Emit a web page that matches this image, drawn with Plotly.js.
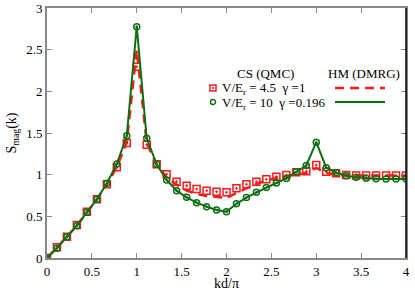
<!DOCTYPE html>
<html>
<head>
<meta charset="utf-8">
<script src="https://cdn.plot.ly/plotly-3.0.1.min.js"></script>
<style>html,body{margin:0;padding:0;background:#fff;}#chart{width:415px;height:291px;}</style>
</head>
<body>
<div id="chart"></div>
<script>
// kd/pi grid
const kd = [0,0.111,0.222,0.333,0.444,0.556,0.667,0.778,0.889,1,1.111,1.222,1.333,1.444,1.556,1.667,1.778,1.889,2,2.111,2.222,2.333,2.444,2.556,2.667,2.778,2.889,3,3.111,3.222,3.333,3.444,3.556,3.667,3.778,3.889,4];
// CS (QMC) V/Er=4.5 gamma=1 (red squares)
const qmcV45 = [0,0.128,0.256,0.396,0.556,0.704,0.884,1.088,1.38,2.296,1.36,1.124,1.004,0.916,0.868,0.828,0.808,0.796,0.788,0.836,0.884,0.916,0.944,0.976,0.996,1.028,1.04,1.116,1.036,1.016,0.996,0.99,0.99,0.99,0.99,0.99,0.99];
// CS (QMC) V/Er=10 gamma=0.196 (green circles)
const qmcV10 = [0,0.116,0.256,0.388,0.548,0.704,0.896,1.128,1.468,2.776,1.436,1.124,0.936,0.808,0.728,0.664,0.616,0.576,0.556,0.65,0.725,0.79,0.845,0.9,0.955,1.035,1.11,1.388,1.084,1.024,0.988,0.968,0.956,0.952,0.948,0.948,0.948];
// HM (DMRG) V/Er=4.5 (red dashed)
const dmrgV45 = [0,0.125,0.256,0.39,0.55,0.705,0.885,1.09,1.39,2.5,1.38,1.12,0.97,0.88,0.81,0.77,0.745,0.73,0.72,0.78,0.84,0.89,0.93,0.96,0.985,1.0,1.02,1.08,1.02,1.0,0.99,0.99,0.99,0.99,0.99,0.99,0.99];
// HM (DMRG) V/Er=10 (green solid)
const dmrgV10 = [0,0.116,0.256,0.388,0.548,0.704,0.896,1.128,1.468,2.78,1.436,1.124,0.936,0.808,0.728,0.664,0.616,0.576,0.556,0.65,0.725,0.79,0.845,0.9,0.955,1.035,1.11,1.39,1.084,1.024,0.988,0.968,0.956,0.952,0.948,0.948,0.948];
const xTicks = [0,0.5,1,1.5,2,2.5,3,3.5,4];
const xTickText = ['0','0.5','1','1.5','2','2.5','3','3.5','4'];
const yTicks = [0,0.5,1,1.5,2,2.5,3];
const yTickText = ['0','0.5','1','1.5','2','2.5','3'];

const RED = '#ff1a1a';
const GREEN = '#0f6e12';
const FONT = 'Liberation Serif';

const traces = [
  {x: kd, y: dmrgV45, mode: 'lines', line: {color: RED, width: 2.5, dash: '9px,6px'}},
  {x: kd, y: qmcV45, mode: 'markers', marker: {symbol: 'square-open-dot', size: 7, color: RED, line: {width: 1.5, color: RED}}},
  {x: kd, y: dmrgV10, mode: 'lines', line: {color: GREEN, width: 2}},
  {x: kd, y: qmcV10, mode: 'markers', marker: {symbol: 'circle-open-dot', size: 6, color: GREEN, line: {width: 1.5, color: GREEN}}}
];

function px(x){return (x-47)/359;}
function py(y){return (258-y)/250;}

const layout = {
  width: 415, height: 291,
  margin: {l: 47, r: 9, t: 8, b: 33},
  paper_bgcolor: '#fff', plot_bgcolor: '#fff',
  showlegend: false,
  font: {family: FONT, size: 13, color: '#000'},
  xaxis: {
    range: [0, 4], tickvals: xTicks, ticktext: xTickText,
    ticks: 'inside', ticklen: 5, tickcolor: '#888', showgrid: false, zeroline: false,
    showline: true, linecolor: '#888', linewidth: 2, mirror: 'ticks',
    title: {text: 'kd/π', font: {family: FONT, size: 14}, standoff: 0},
    tickfont: {family: FONT, size: 13}
  },
  yaxis: {
    range: [0, 3], tickvals: yTicks, ticktext: yTickText,
    ticks: 'inside', ticklen: 5, tickcolor: '#888', showgrid: false, zeroline: false,
    showline: true, linecolor: '#888', linewidth: 2, mirror: 'ticks',
    title: {text: 'S<sub>mag</sub>(k)', font: {family: FONT, size: 14}, standoff: 6},
    tickfont: {family: FONT, size: 13}
  },
  shapes: [
    {type: 'line', xref: 'paper', yref: 'paper', x0: 1, x1: 1, y0: 0, y1: 1, line: {color: '#000', width: 1.5}},
    {type: 'rect', xref: 'paper', yref: 'paper', x0: px(210), x1: px(216), y0: py(91), y1: py(85), line: {color: RED, width: 1.5}},
    {type: 'rect', xref: 'paper', yref: 'paper', x0: px(212.4), x1: px(213.6), y0: py(88.6), y1: py(87.4), line: {color: RED, width: 1}},
    {type: 'circle', xref: 'paper', yref: 'paper', x0: px(210.5), x1: px(215.5), y0: py(104.5), y1: py(99.5), line: {color: GREEN, width: 1.5}},
    {type: 'line', xref: 'paper', yref: 'paper', x0: px(335), x1: px(385), y0: py(88), y1: py(88), line: {color: RED, width: 2.5, dash: '9px,6px'}},
    {type: 'line', xref: 'paper', yref: 'paper', x0: px(335), x1: px(385), y0: py(102), y1: py(102), line: {color: GREEN, width: 2}}
  ],
  annotations: [
    {text: 'CS (QMC)', xref: 'paper', yref: 'paper', x: px(265), y: py(73), xanchor: 'center', yanchor: 'middle', showarrow: false, font: {family: FONT, size: 13}},
    {text: 'HM (DMRG)', xref: 'paper', yref: 'paper', x: px(364), y: py(73), xanchor: 'center', yanchor: 'middle', showarrow: false, font: {family: FONT, size: 13}},
    {text: 'V/E<sub>r</sub> = 4.5  γ =1', xref: 'paper', yref: 'paper', x: px(220), y: py(89), xanchor: 'left', yanchor: 'middle', showarrow: false, font: {family: FONT, size: 13}},
    {text: 'V/E<sub>r</sub> = 10  γ =0.196', xref: 'paper', yref: 'paper', x: px(220), y: py(103), xanchor: 'left', yanchor: 'middle', showarrow: false, font: {family: FONT, size: 13}}
  ]
};

Plotly.newPlot('chart', traces, layout, {displayModeBar: false, staticPlot: true});
</script>
</body>
</html>
